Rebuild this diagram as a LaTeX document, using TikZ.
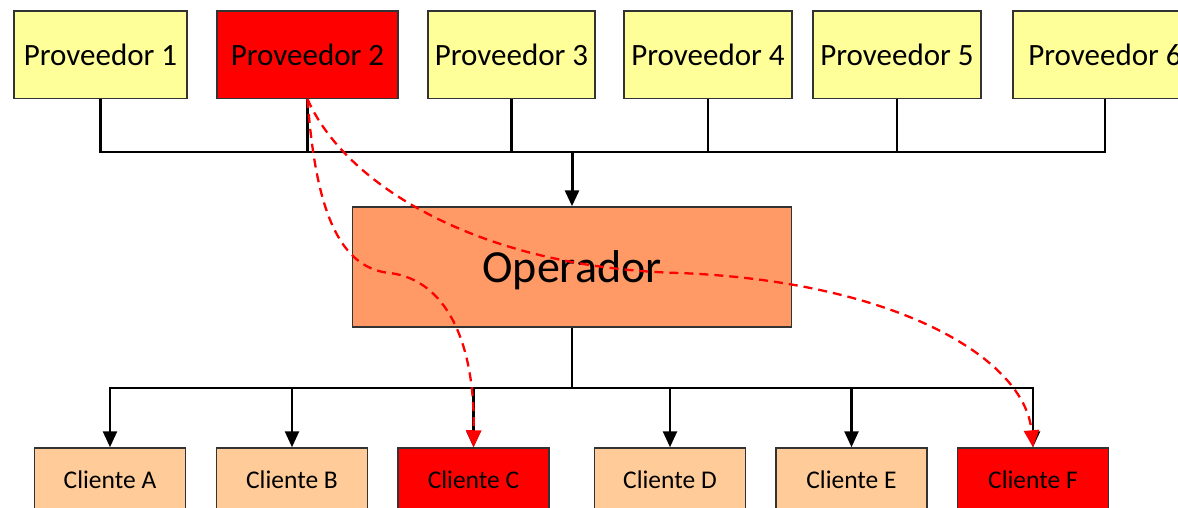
\documentclass[tikz,border=0pt]{standalone}
\usepackage{fontspec}
\setmainfont{Carlito}
\usepackage{tikz}
\usetikzlibrary{arrows.meta}
\usetikzlibrary{positioning}

\definecolor{amarillo}{HTML}{FFFF99}
\definecolor{salmon}{HTML}{FF9966}
\definecolor{melocoton}{HTML}{FFCC99}
\definecolor{borde}{HTML}{333333}

\begin{document}
\begin{tikzpicture}[x=1pt, y=-1pt,
        caja/.style={rectangle, draw=borde, line width=1.5pt, inner sep=0, minimum height=87.5pt},
        linea/.style={line width=2.5pt, black},
        flecha/.style={linea, -{Triangle[length=16pt, width=14pt]}},
        ruta/.style={red, line width=2.3pt, dash pattern=on 9pt off 6pt, -{Triangle[length=17pt, width=15pt]}}]
        \clip (0,0) rectangle (1178,507);
        \useasboundingbox (0,0) rectangle (1178,507);
        \begin{scope}[every node/.style={caja, fill=amarillo, font=\fontsize{31}{36}\selectfont}]
            \node[minimum width=173pt]          (p1) at (100.5,54.5) {Proveedor 1};
            \node[minimum width=181pt, fill=red] (p2) at (307.5,54.5) {Proveedor 2};
            \node[minimum width=167pt]          (p3) at (511.5,54.5) {Proveedor 3};
            \node[minimum width=168pt]          (p4) at (708,54.5)   {Proveedor 4};
            \node[minimum width=168pt]          (p5) at (897,54.5)   {Proveedor 5};
            \node[minimum width=184pt]          (p6) at (1105,54.5)  {Proveedor 6};
        \end{scope}
        \node[caja, fill=salmon, minimum width=439pt, minimum height=120pt,
              text height=30pt, text depth=0pt,
              font=\fontsize{46}{52}\selectfont] (op) at (572,267) {Operador};
        \begin{scope}[every node/.style={caja, fill=melocoton, minimum width=151pt,
                      minimum height=64pt, font=\fontsize{25.5}{30}\selectfont}]
            \node          (ca) at (110,480)    {Cliente A};
            \node          (cb) at (292,480)    {Cliente B};
            \node[fill=red] (cc) at (473.5,480) {Cliente C};
            \node          (cd) at (670,480)    {Cliente D};
            \node          (ce) at (851.5,480)  {Cliente E};
            \node[fill=red] (cf) at (1033,480)  {Cliente F};
        \end{scope}
        \coordinate (busarriba) at (572,152);
        \coordinate (busabajo) at (572,388);
        % proveedores al operador
        \draw[linea]
            (p1.south) |- (busarriba)
            (p2.south) |- (busarriba)
            (p3.south) |- (busarriba)
            (p4.south) |- (busarriba)
            (p5.south) |- (busarriba)
            (p6.south) |- (busarriba);
        \draw[flecha, line width=3pt] (busarriba) -- (op.north);
        % operador a los clientes
        \draw[linea] (op.south) -- (busabajo);
        \foreach \c in {ca, cb, cc, cd, ce, cf}
            \draw[flecha] (busabajo) -| (\c.north);
        % rutas directas
        \draw[ruta] (p2.south)
            .. controls (315,200) and (335,268) .. (390,273)
            .. controls (445,280) and (475,340) .. (cc.north);
        \draw[ruta] (p2.south)
            .. controls (345,185) and (480,268) .. (680,273)
            .. controls (900,282) and (1025,360) .. (cf.north);
    \end{tikzpicture}
\end{document}
